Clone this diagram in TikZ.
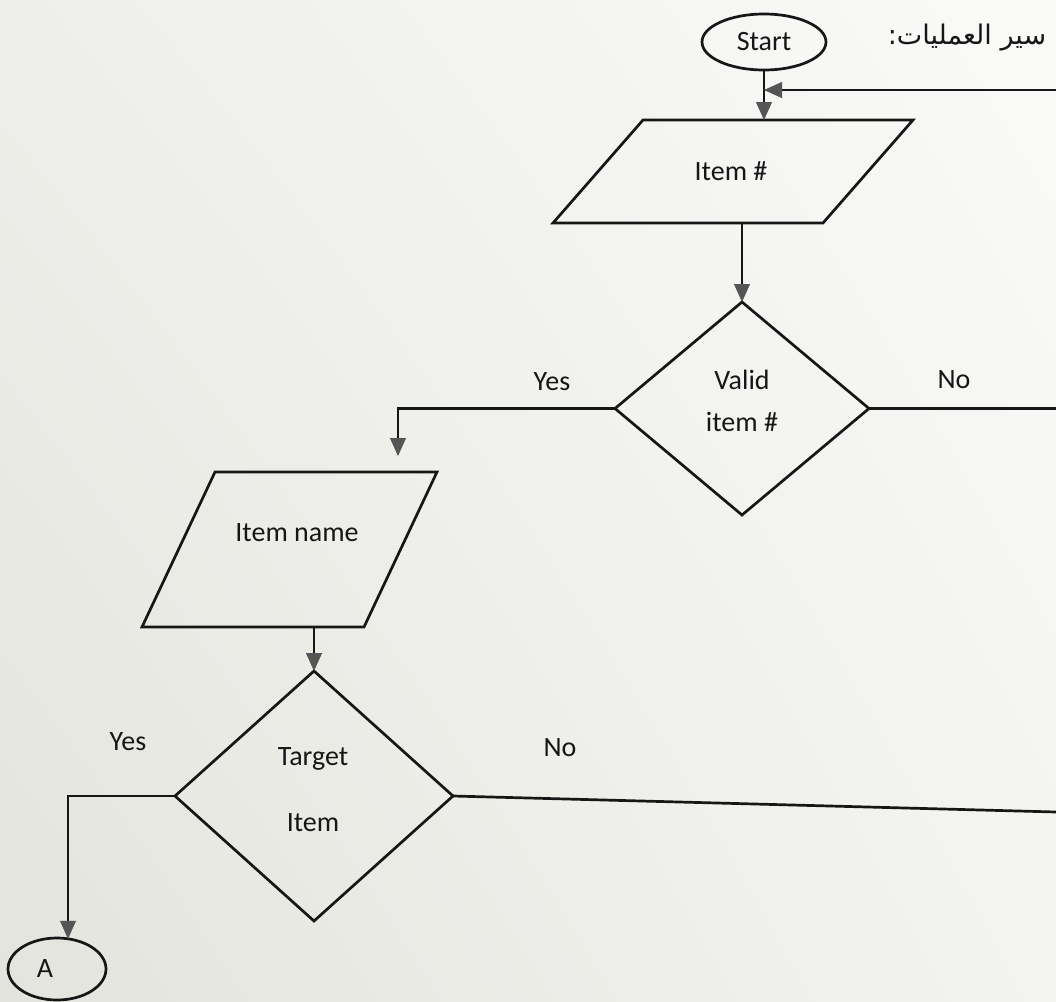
\documentclass[tikz,border=0pt]{standalone}
\usepackage{fontspec}
\setmainfont{Carlito}
\newfontfamily\arabicfont[Script=Arabic]{DejaVu Sans}
\TeXXeTstate=1
\usetikzlibrary{shapes.geometric,arrows.meta,calc,shadings}
\definecolor{ink}{HTML}{161616}
\definecolor{tipgray}{HTML}{555555}
\definecolor{paperUL}{HTML}{EEEEEA}
\definecolor{paperUR}{HTML}{FAFAF9}
\definecolor{paperLL}{HTML}{E4E4DE}
\definecolor{paperLR}{HTML}{F3F3F0}
\begin{document}
\begin{tikzpicture}[x=0.5pt,y=-0.5pt,
  every node/.style={font=\fontsize{14pt}{17pt}\selectfont, text=ink},
  line/.style={draw=ink, line width=1.35pt},
  arr/.style={line, -{Triangle[width=8pt,length=9pt,color=tipgray,fill=tipgray,line width=0.4pt]}},
  terminal/.style={ellipse, draw=ink, line width=1.35pt, inner sep=0pt, outer sep=0pt},
  decision/.style={diamond, draw=ink, line width=1.35pt, inner sep=0pt, outer sep=0pt},
  iobox/.style={rectangle, inner sep=0pt, outer sep=0pt},
  para/.style={line, line join=miter},
  txt/.style={inner sep=0pt, align=center}
]
% paper
\shade[upper left=paperUL, upper right=paperUR,
       lower left=paperLL, lower right=paperLR]
  (0,0) rectangle (1056,1002);
\useasboundingbox (0,0) rectangle (1056,1002);

% heading
\node[txt] (title) at (967,38) {\arabicfont\fontsize{13.5pt}{16pt}\selectfont\beginR سير العمليات:\endR};

% terminals
\node[terminal, minimum width=62pt, minimum height=28pt] (start) at (764,42) {Start};
\node[terminal, minimum width=49pt, minimum height=31pt] (aend) at (57,969) {A\hspace{12pt}\null};

% input: item number
\node[iobox, minimum width=180pt, minimum height=51.5pt] (pitem) at (733,171.5) {};
\draw[para] ($(pitem.north west)+(90,0)$) -- (pitem.north east)
  -- ($(pitem.south east)-(90,0)$) -- (pitem.south west) -- cycle;
\node[txt] (pitemtxt) at (731,171) {Item \#};

% decision: valid item number
\node[decision, minimum width=127pt, minimum height=106.5pt] (valid) at (742,408.5) {};
\node[txt] (validtxt) at (742,401) {Valid\\[4pt]item \#};

% input: item name
\node[iobox, minimum width=147.5pt, minimum height=77.5pt] (pname) at (289.5,549.5) {};
\draw[para] ($(pname.north west)+(73,0)$) -- (pname.north east)
  -- ($(pname.south east)-(73,0)$) -- (pname.south west) -- cycle;
\node[txt] (pnametxt) at (297,533) {Item name};

% decision: target item
\node[decision, minimum width=139pt, minimum height=125pt] (target) at (314,796) {};
\node[txt] (targettxt) at (313,790) {Target\\[16pt]Item};

% branch labels
\node[txt] (yes1) at (552,382) {Yes};
\node[txt] (no1) at (954,380) {No};
\node[txt] (yes2) at (128,742) {Yes};
\node[txt] (no2) at (560,748) {No};

% loose ends running off the page
\coordinate (loopin) at (1056,90);
\coordinate (merge) at (764,90);
\coordinate (yesdrop) at (398,456);
\coordinate (noout1) at (1056,408.5);
\coordinate (noout2) at (1056,812);

% connectors
\draw[arr] (start.south) -- (start.south |- pitem.north);
\draw[arr] (loopin) -- (merge);
\draw[arr] (valid.north |- pitem.south) -- (valid.north);
\draw[arr] (valid.west) -| (yesdrop);
\draw[line] (valid.east) -- (noout1);
\draw[arr] (target.north |- pname.south) -- (target.north);
\draw[arr] (target.west) -| (aend.70);
\draw[line] (target.east) -- (noout2);
\end{tikzpicture}
\end{document}
